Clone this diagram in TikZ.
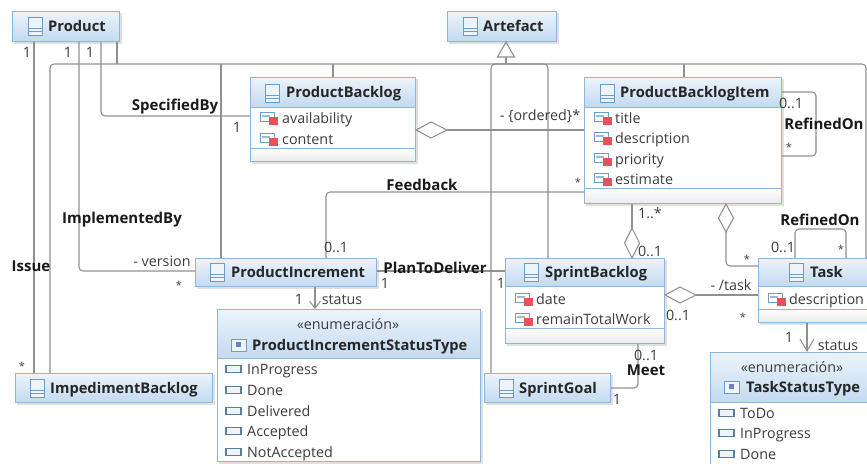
\documentclass[tikz,border=0pt]{standalone}
\usepackage{fontspec}
\setmainfont{Open Sans}
\newfontfamily\umlreg{Open Sans}
\usetikzlibrary{arrows.meta,calc}
\definecolor{hdtop}{HTML}{EDF4FB}
\definecolor{hdbot}{HTML}{C3DAF0}
\definecolor{boxedge}{HTML}{8DB6DE}
\definecolor{wire}{HTML}{909090}
\definecolor{txt}{HTML}{3C3C3C}
\definecolor{redsq}{HTML}{E8505A}
\definecolor{iconb}{HTML}{6E9CC8}
\tikzset{
  wirestyle/.style={draw=wire,line width=1.1pt,rounded corners=4pt},
  boxshape/.style={draw=boxedge,line width=1.1pt,inner sep=0pt,fill=none},
  lab/.style={inner sep=0pt,text=txt,font=\umlreg\fontsize{14.3}{16}\selectfont,text height=12pt,text depth=1pt},
  starlab/.style={lab,font=\umlreg\fontsize{11}{14}\selectfont,yshift=-3pt},
  attr/.style={lab,anchor=west},
  blab/.style={inner sep=0pt,text=black!90,font=\umlreg\fontsize{15}{16}\selectfont\bfseries,text height=12pt,text depth=1pt},
  cname/.style={inner sep=0pt,text=black!85,font=\umlreg\fontsize{14.7}{16}\selectfont\bfseries,text height=12pt,text depth=1pt,anchor=west},
  dia/.style={draw=wire,line width=1.1pt,fill=white,line join=miter},
}
% name, x1, y1, x2, y2, header bottom, separator y
\newcommand\umlbox[7]{%
  \fill[black!22,opacity=.55] (#2+2,#3+2) rectangle (#4+3,#5+3);
  \fill[white] (#2,#3) rectangle (#4,#5);
  \shade[top color=hdtop,bottom color=hdbot] (#2,#3) rectangle (#4,#6);
  \ifnum#7>0
    \shade[top color=white,bottom color=black!8] (#2,#7) rectangle (#4,#5);
    \draw[boxedge,line width=.9pt] (#2,#7) -- (#4,#7);
  \fi
  \draw[boxedge,line width=.9pt] (#2,#6) -- (#4,#6);
  \pgfmathsetmacro\bw{#4-#2}\pgfmathsetmacro\bh{#5-#3}
  \node[boxshape,minimum width=\bw pt,minimum height=\bh pt,anchor=north west] (#1) at (#2,#3) {};
}
\newcommand\clsicon[2]{%
  \fill[hdtop] (#1,#2-9) rectangle (#1+14,#2+9);
  \draw[iconb,line width=.9pt] (#1,#2-9) rectangle (#1+14,#2+9);
  \draw[iconb,line width=.8pt] (#1,#2+2) -- (#1+14,#2+2) (#1,#2+5.5) -- (#1+14,#2+5.5);
}
\newcommand\attricon[2]{%
  \fill[white] (#1,#2-6) rectangle (#1+14,#2+3);
  \draw[iconb,line width=1pt] (#1,#2-6) rectangle (#1+14,#2+3);
  \fill[iconb!70] (#1+2,#2-3) rectangle (#1+10,#2-1);
  \fill[redsq] (#1+9,#2-1) rectangle (#1+18,#2+7);
}
\newcommand\liticon[2]{%
  \fill[hdtop] (#1,#2-3.5) rectangle (#1+15,#2+3.5);
  \draw[iconb!80!black,line width=1.1pt] (#1,#2-3.5) rectangle (#1+15,#2+3.5);
}
\newcommand\enumicon[2]{%
  \fill[hdtop] (#1,#2-6) rectangle (#1+15,#2+6);
  \draw[iconb,line width=.9pt] (#1,#2-6) rectangle (#1+15,#2+6);
  \fill[iconb!80!violet] (#1+5,#2-3) rectangle (#1+10,#2+2);
}
\begin{document}
\begin{tikzpicture}[x=1pt,y=-1pt]
\useasboundingbox (0,0) rectangle (867,463);
\clip (0,0) rectangle (867,463);

\umlbox{prod}{12}{11}{119}{41}{41}{0}
\umlbox{arte}{447}{11}{556}{41}{41}{0}
\umlbox{pb}{250}{77}{415}{161}{107}{148}
\umlbox{pbi}{584}{77}{781}{203}{107}{188}
\umlbox{pi}{195}{258}{376}{286}{286}{0}
\umlbox{imp}{15}{373}{212}{402}{402}{0}
\umlbox{pist}{217}{309}{480}{461}{358}{0}
\umlbox{sb}{505}{258}{664}{343}{286}{328}
\umlbox{sg}{484}{373}{610}{402}{402}{0}
\umlbox{task}{758}{258}{880}{322}{286}{309}
\umlbox{tst}{710}{352}{880}{480}{402}{0}

% connectors
\draw[wirestyle] (34,0 |- prod.south) -- (34,0 |- imp.north);
\draw[wirestyle] (79,0 |- prod.south) -- (79,271) -- (79,271 -| pi.west);
\draw[wirestyle] (101,0 |- prod.south) -- (101,116) -- (101,116 -| pb.west);
\draw[wirestyle] (117,0 |- prod.south) -- (117,64);
\draw[wirestyle] (50,0 |- imp.north) -- (50,64) -- (866,64) -- (866,0 |- task.north);
\draw[wirestyle] (221,64) -- (221,0 |- pi.north);
\draw[wirestyle] (333,64) -- (333,0 |- pb.north);
\draw[wirestyle] (491,0 |- sg.north) -- (491,64) -- (548,64) -- (548,0 |- sb.north);
\draw[wirestyle] (684,64) -- (684,0 |- pbi.north);
\draw[wirestyle] (506,57) -- (506,64);
\draw[dia] (506,0 |- arte.south) -- (497.5,57) -- (514.5,57) -- cycle;
% aggregations
\draw[wirestyle] (446,130) -- (446,130 -| pbi.west);
\draw[dia] (pb.east |- 0,130) -- (431,122) -- (447,130) -- (431,138) -- cycle;
\draw[wirestyle] (pbi.east |- 0,92) -- (816,92) -- (816,156) -- (pbi.east |- 0,156);
\draw[wirestyle] (pbi.west |- 0,192) -- (326,192) -- (326,0 |- pi.north);
\draw[wirestyle] (632,0 |- pbi.south) -- (632,228);
\draw[dia] (632,0 |- sb.north) -- (624.5,243) -- (632,228) -- (639.5,243) -- cycle;
\draw[wirestyle] (726,232) -- (726,266) -- (726,266 -| task.west);
\draw[dia] (726,0 |- pbi.south) -- (718.5,218) -- (726,232) -- (733.5,218) -- cycle;
\draw[wirestyle] (795,0 |- task.north) -- (795,229) -- (846,229) -- (846,0 |- task.north);
\draw[wirestyle] (pi.east |- 0,271) -- (sb.west |- 0,271);
\draw[wirestyle] (696,295) -- (696,295 -| task.west);
\draw[dia] (sb.east |- 0,295) -- (680,287) -- (696,295) -- (680,303) -- cycle;
\draw[wirestyle] (638,0 |- sb.south) -- (638,388) -- (638,388 -| sg.east);
\draw[wirestyle,-{Straight Barb[length=7pt,width=11pt,line width=1pt]}] (315,0 |- pi.south) -- (315,0 |- pist.north);
\draw[wirestyle,-{Straight Barb[length=12pt,width=14pt,line width=1pt]}] (807,0 |- task.south) -- (807,0 |- tst.north);

% icons and class names
\clsicon{28}{26}\node[cname] (nprod) at (48,26) {Product};
\clsicon{463}{26}\node[cname] (narte) at (483,26) {Artefact};
\clsicon{265}{93}\node[cname] (npb) at (286,92) {ProductBacklog};
\clsicon{600}{93}\node[cname] (npbi) at (620,92) {ProductBacklogItem};
\clsicon{210}{272}\node[cname] (npi) at (231,272) {ProductIncrement};
\clsicon{30}{388}\node[cname] (nimp) at (50,388) {ImpedimentBacklog};
\clsicon{524}{272}\node[cname] (nsb) at (545,272) {SprintBacklog};
\clsicon{499}{388}\node[cname] (nsg) at (519,388) {SprintGoal};
\clsicon{789}{272}\node[cname] (ntask) at (810,272) {Task};
\enumicon{231}{345}\node[cname] (npist) at (252,345) {ProductIncrementStatusType};
\enumicon{724}{387}\node[cname] (ntst) at (746,387) {TaskStatusType};
\node[lab] (st1) at (348,324) {«enumeración»};
\node[lab] (st2) at (792,367) {«enumeración»};

% attributes
\attricon{260}{118}\node[attr] (a1) at (282,118) {availability};
\attricon{260}{139}\node[attr] (a2) at (282,139) {content};
\attricon{594}{118}\node[attr] (a3) at (615,118) {title};
\attricon{594}{138}\node[attr] (a4) at (615,138) {description};
\attricon{594}{159}\node[attr] (a5) at (615,159) {priority};
\attricon{594}{179}\node[attr] (a6) at (615,179) {estimate};
\attricon{515}{299}\node[attr] (a7) at (536,299) {date};
\attricon{515}{319}\node[attr] (a8) at (536,319) {remainTotalWork};
\attricon{768}{299}\node[attr] (a9) at (789,299) {description};
% literals
\liticon{226}{369}\node[attr] (l1) at (247,369) {InProgress};
\liticon{226}{390}\node[attr] (l2) at (247,390) {Done};
\liticon{226}{411}\node[attr] (l3) at (247,411) {Delivered};
\liticon{226}{431}\node[attr] (l4) at (247,431) {Accepted};
\liticon{226}{452}\node[attr] (l5) at (247,452) {NotAccepted};
\liticon{719}{413}\node[attr] (l6) at (740,413) {ToDo};
\liticon{719}{433}\node[attr] (l7) at (740,433) {InProgress};
\liticon{719}{454}\node[attr] (l8) at (740,454) {Done};

% connector labels
\node[lab] (m1) at (27,52) {1};
\node[lab] (m2) at (68,52) {1};
\node[lab] (m3) at (90,52) {1};
\node[blab] (e1) at (175,105) {SpecifiedBy};
\node[lab] (m4) at (237,127) {1};
\node[blab] (e2) at (122,218) {ImplementedBy};
\node[blab] (e3) at (31,266) {Issue};
\node[lab] (m5) at (162,261) {- version};
\node[starlab] (m6) at (179,281) {*};
\node[starlab] (m7) at (22,362) {*};
\node[lab] (m8) at (540,115) {- \{ordered\}*};
\node[blab] (e4) at (422,185) {Feedback};
\node[starlab] (m9) at (578,178) {*};
\node[lab] (m10) at (336,247) {0..1};
\node[lab] (m11) at (791,103) {0..1};
\node[blab] (e5) at (824,124) {RefinedOn};
\node[starlab] (m12) at (789,143) {*};
\node[lab] (m13) at (650,213) {1..*};
\node[lab] (m14) at (650,251) {0..1};
\node[blab] (e6) at (820,220) {RefinedOn};
\node[lab] (m15) at (783,247) {0..1};
\node[starlab] (m16) at (841,245) {*};
\node[starlab] (m17) at (747,255) {*};
\node[blab] (e7) at (435,268) {PlanToDeliver};
\node[lab] (m18) at (385,283) {1};
\node[lab] (m19) at (501,283) {1};
\node[lab] (m20) at (731,285) {- /task};
\node[lab] (m21) at (678,315) {0..1};
\node[starlab] (m22) at (743,313) {*};
\node[lab] (m23) at (646,355) {0..1};
\node[blab] (e8) at (646,369.5) {Meet};
\node[lab] (m24) at (617,399) {1};
\node[lab] (m25) at (299,299) {1};
\node[lab] (m26) at (342,299) {status};
\node[lab] (m27) at (789,337) {1};
\node[lab] (m28) at (838,345) {status};
\end{tikzpicture}
\end{document}
